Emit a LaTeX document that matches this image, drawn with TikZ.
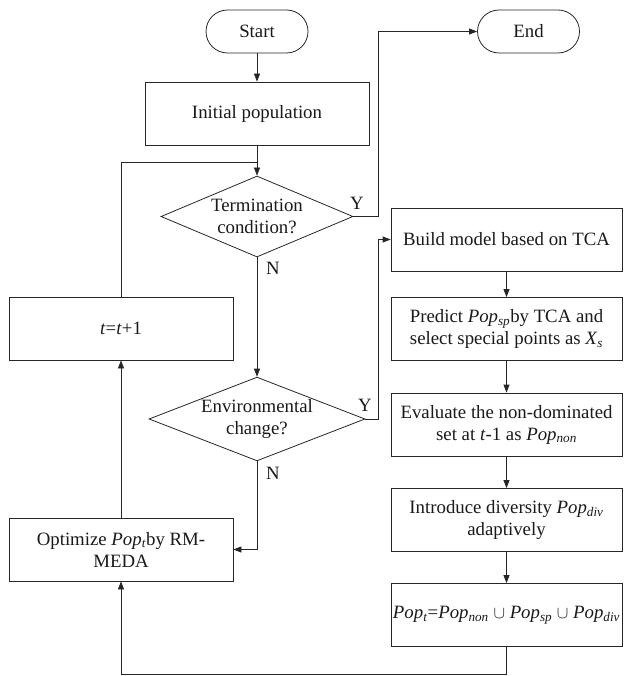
\documentclass[tikz,border=0pt]{standalone}
\usepackage{fontspec}
\setmainfont{Liberation Serif}
\usetikzlibrary{shapes.geometric,arrows.meta}
\newcommand{\popsub}[1]{\textit{Pop}\textsubscript{\textit{#1}}}
\begin{document}
\begin{tikzpicture}[x=1pt,y=-1pt,line width=0.8pt,draw=black!85,
  >={Triangle[length=8pt,width=6pt]},
  every node/.style={font=\fontsize{18.8}{22}\selectfont,text=black!90},
  proc/.style={draw,rectangle,minimum height=63pt,align=center,inner sep=2pt},
  ends/.style={draw,rounded corners=21.5pt,minimum width=102pt,minimum height=43pt},
  dec/.style={draw,diamond,aspect=2.5,inner sep=0pt,align=center},
  lab/.style={inner sep=0pt}]
  \useasboundingbox (0,0) rectangle (624,676);
  % left column
  \node[ends] (start) at (257,31.5) {Start};
  \node[ends] (stop) at (528.5,31.5) {End};
  \node[proc,minimum width=224pt] (init) at (257,113.5) {Initial population};
  \node[dec,minimum width=192pt,minimum height=81pt] (term) at (257,216.5) {Termination\\condition?};
  \node[dec,minimum width=216pt,minimum height=82pt] (env) at (257,419) {Environmental\\change?};
  \node[proc,minimum width=224pt] (inc) at (121,328.5) {\textit{t}=\textit{t}+1};
  \node[proc,minimum width=224pt] (opt) at (121,549.5) {Optimize \popsub{t}by RM-\\MEDA};
  % right column
  \node[proc,minimum width=231pt] (build) at (506.5,239.5) {Build model based on TCA};
  \node[proc,minimum width=231pt] (pred) at (506.5,329) {Predict \popsub{sp}by TCA and\\select special points as \textit{X}\textsubscript{\textit{s}}};
  \node[proc,minimum width=231pt] (eval) at (506.5,424.5) {Evaluate the non-dominated\\set at \textit{t}-1 as \popsub{non}};
  \node[proc,minimum width=231pt] (divr) at (506.5,520) {Introduce diversity \popsub{div}\\adaptively};
  \node[proc,minimum width=231pt] (popt) at (506.5,615) {\popsub{t}=\popsub{non} $\cup$ \popsub{sp} $\cup$ \popsub{div}};
  % labels
  \node[lab] (ty) at (357,203) {Y};
  \node[lab] (tn) at (273,268) {N};
  \node[lab] (ey) at (365,405) {Y};
  \node[lab] (en) at (273,473) {N};
  \coordinate (join) at (257,162);
  % connectors
  \draw[->] (start) -- (init);
  \draw[->] (init) -- (term);
  \draw (inc.north) |- (join);
  \draw[->] (term.east) -- ++(25,0) |- (stop.west);
  \draw[->] (term.south) -- (env.north);
  \draw[->] (env.east) -- ++(13,0) |- (build.west);
  \draw[->] (env.south) |- (opt.east);
  \draw[->] (opt) -- (inc);
  \draw[->] (build) -- (pred);
  \draw[->] (pred) -- (eval);
  \draw[->] (eval) -- (divr);
  \draw[->] (divr) -- (popt);
  \draw[->] (popt.south) -- ++(0,27) -| (opt.south);
\end{tikzpicture}
\end{document}
